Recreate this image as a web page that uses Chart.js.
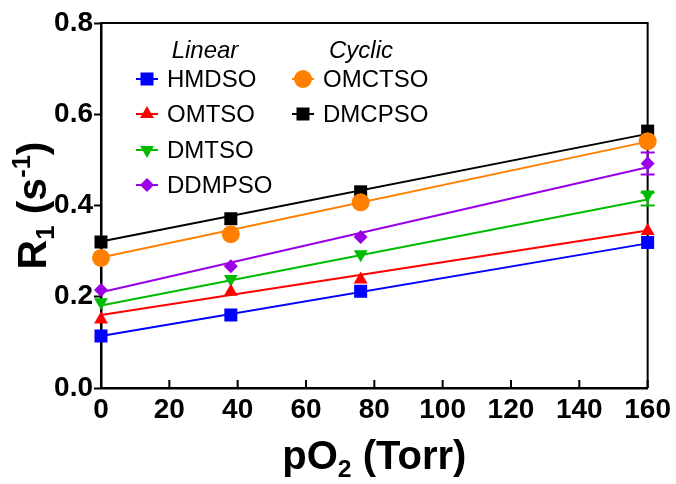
<!DOCTYPE html>
<html><head><meta charset="utf-8">
<script src="https://cdn.jsdelivr.net/npm/chart.js@4"></script>
<style>html,body{margin:0;padding:0;background:#fff}canvas{display:block}</style>
</head><body>
<canvas id="c" width="676" height="484"></canvas>
<script>
// ---------- data ----------
const pO2 = [0, 38, 76, 160];
const seriesNames = ['HMDSO', 'OMTSO', 'DMTSO', 'DDMPSO', 'OMCTSO', 'DMCPSO'];
const HMDSO  = [0.114, 0.160, 0.212, 0.319];
const OMTSO  = [0.150, 0.211, 0.238, 0.344];
const DMTSO  = [0.188, 0.239, 0.293, 0.424];
const DDMPSO = [0.215, 0.267, 0.331, 0.492];
const OMCTSO = [0.285, 0.337, 0.407, 0.541];
const DMCPSO = [0.320, 0.371, 0.430, 0.563];
// linear fit lines, read at pO2 = 0 and 160
const fitX = [0, 160];
const HMDSO_fit  = [0.114, 0.317];
const OMTSO_fit  = [0.160, 0.345];
const DMTSO_fit  = [0.181, 0.413];
const DDMPSO_fit = [0.210, 0.484];
const OMCTSO_fit = [0.286, 0.540];
const DMCPSO_fit = [0.321, 0.557];
// error bars
const DMTSO_errHigh  = [0, 0, 0, 0.004];
const DMTSO_errLow   = [0, 0, 0, 0.024];
const DDMPSO_errHigh = [0, 0, 0, 0.024];
const DDMPSO_errLow  = [0, 0, 0, 0.024];
// ticks and texts
const xTicks = [0, 20, 40, 60, 80, 100, 120, 140, 160];
const yTicks = [0.0, 0.2, 0.4, 0.6, 0.8];
const yTickLabels = ['0.0', '0.2', '0.4', '0.6', '0.8'];
const legendHeadings = ['Linear', 'Cyclic'];
const legendColumns = [['HMDSO', 'OMTSO', 'DMTSO', 'DDMPSO'], ['OMCTSO', 'DMCPSO']];
const xTitleParts = [['pO', ''], ['2', 'sub'], [' (Torr)', '']];
const yTitleParts = [['R', ''], ['1', 'sub'], [' (s', ''], ['-1', 'sup'], [')', '']];

// ---------- styles ----------
const FONT = '"Liberation Sans", Arial, Helvetica, sans-serif';
const styles = {
  HMDSO:  {color: '#0000ff', pointStyle: 'rect',     radius: 9.2, rotation: 0},
  OMTSO:  {color: '#ff0000', pointStyle: 'triangle', radius: 8,   rotation: 0},
  DMTSO:  {color: '#00bb00', pointStyle: 'triangle', radius: 8,   rotation: 180},
  DDMPSO: {color: '#9900e6', pointStyle: 'rectRot',  radius: 7,   rotation: 0},
  OMCTSO: {color: '#ff8000', pointStyle: 'circle',   radius: 9,   rotation: 0},
  DMCPSO: {color: '#000000', pointStyle: 'rect',     radius: 9.2, rotation: 0}
};
const values = {HMDSO, OMTSO, DMTSO, DDMPSO, OMCTSO, DMCPSO};
const fits = {HMDSO: HMDSO_fit, OMTSO: OMTSO_fit, DMTSO: DMTSO_fit, DDMPSO: DDMPSO_fit, OMCTSO: OMCTSO_fit, DMCPSO: DMCPSO_fit};
const errs = {DMTSO: [DMTSO_errHigh, DMTSO_errLow], DDMPSO: [DDMPSO_errHigh, DDMPSO_errLow]};

const datasets = [];
seriesNames.forEach(n => {
  const s = styles[n];
  datasets.push({
    label: n, type: 'line', showLine: false, order: 0, clip: false,
    data: pO2.map((x, i) => ({x, y: values[n][i]})),
    pointStyle: s.pointStyle, pointRadius: s.radius, pointRotation: s.rotation,
    pointBackgroundColor: s.color, pointBorderColor: s.color, pointBorderWidth: 0,
    pointHoverRadius: s.radius, borderColor: s.color, backgroundColor: s.color
  });
});
seriesNames.forEach(n => {
  const s = styles[n];
  datasets.push({
    label: n + ' fit', type: 'line', order: 1, clip: false,
    data: fitX.map((x, i) => ({x, y: fits[n][i]})),
    borderColor: s.color, borderWidth: 2, pointRadius: 0, fill: false, tension: 0
  });
});

function drawRich(ctx, parts, size) {
  const subSize = size * 0.62;
  let w = 0;
  const meas = parts.map(([t, k]) => {
    ctx.font = 'bold ' + (k ? subSize : size) + 'px ' + FONT;
    const m = ctx.measureText(t).width; w += m; return m;
  });
  let x = -w / 2;
  parts.forEach(([t, k], i) => {
    ctx.font = 'bold ' + (k ? subSize : size) + 'px ' + FONT;
    const dy = k === 'sub' ? size * 0.2 : (k === 'sup' ? -size * 0.4 : 0);
    ctx.fillText(t, x, dy);
    x += meas[i];
  });
}

function marker(ctx, s, x, y) {
  ctx.save();
  ctx.fillStyle = s.color; ctx.strokeStyle = s.color;
  if (Chart.helpers && Chart.helpers.drawPoint) {
    Chart.helpers.drawPoint(ctx, {pointStyle: s.pointStyle, radius: s.radius, rotation: s.rotation, borderWidth: 0}, x, y);
  } else {
    ctx.beginPath(); ctx.arc(x, y, s.radius, 0, Math.PI * 2); ctx.fill();
  }
  ctx.restore();
}

const decor = {
  id: 'decor',
  beforeDatasetsDraw(chart) {
    const {ctx, chartArea: a, scales: {x, y}} = chart;
    ctx.save();
    ctx.strokeStyle = '#000'; ctx.lineWidth = 2;
    // top and right frame
    ctx.beginPath();
    ctx.moveTo(a.left, a.top); ctx.lineTo(a.right, a.top); ctx.lineTo(a.right, a.bottom);
    ctx.stroke();
    // inward x ticks
    x.ticks.forEach(t => {
      const px = x.getPixelForValue(t.value);
      ctx.beginPath(); ctx.moveTo(px, a.bottom); ctx.lineTo(px, a.bottom - 8); ctx.stroke();
    });
    // error bars
    Object.keys(errs).forEach(n => {
      const [hi, lo] = errs[n];
      ctx.strokeStyle = styles[n].color; ctx.lineWidth = 2;
      pO2.forEach((xv, i) => {
        if (!hi[i] && !lo[i]) return;
        const px = x.getPixelForValue(xv);
        const yt = y.getPixelForValue(values[n][i] + hi[i]);
        const yb = y.getPixelForValue(values[n][i] - lo[i]);
        ctx.beginPath();
        ctx.moveTo(px, yt); ctx.lineTo(px, yb);
        ctx.moveTo(px - 7, yt); ctx.lineTo(px + 7, yt);
        ctx.moveTo(px - 7, yb); ctx.lineTo(px + 7, yb);
        ctx.stroke();
      });
    });
    ctx.restore();
  },
  afterDraw(chart) {
    const {ctx, chartArea: a} = chart;
    ctx.save();
    ctx.fillStyle = '#000';
    ctx.textAlign = 'left'; ctx.textBaseline = 'alphabetic';
    // x title
    ctx.save(); ctx.translate((a.left + a.right) / 2, 469); drawRich(ctx, xTitleParts, 40); ctx.restore();
    // y title
    ctx.save(); ctx.translate(46, (a.top + a.bottom) / 2); ctx.rotate(-Math.PI / 2); drawRich(ctx, yTitleParts, 41); ctx.restore();
    // legend
    const colMarkerX = [147, 303], colTextX = [167, 323], headX = [205, 361];
    const rowBase = [87, 122, 158, 193];
    ctx.font = 'italic 24px ' + FONT; ctx.textAlign = 'center';
    legendHeadings.forEach((h, c) => ctx.fillText(h, headX[c], 58));
    legendColumns.forEach((col, c) => {
      col.forEach((n, r) => {
        const s = styles[n];
        const cy = rowBase[r] - 8;
        ctx.save(); ctx.strokeStyle = s.color; ctx.lineWidth = 2;
        ctx.beginPath(); ctx.moveTo(colMarkerX[c] - 11, cy); ctx.lineTo(colMarkerX[c] + 11, cy); ctx.stroke();
        ctx.restore();
        marker(ctx, s, colMarkerX[c], cy);
        ctx.fillStyle = '#000'; ctx.font = '24px ' + FONT; ctx.textAlign = 'left';
        ctx.fillText(n, colTextX[c], rowBase[r]);
      });
    });
    ctx.restore();
  }
};

new Chart(document.getElementById('c'), {
  type: 'line',
  data: {datasets},
  plugins: [decor],
  options: {
    responsive: false, animation: false, devicePixelRatio: 1,
    layout: {padding: {top: 23, right: 27, left: 0, bottom: 0}},
    plugins: {legend: {display: false}, tooltip: {enabled: false}},
    scales: {
      x: {
        type: 'linear', min: 0, max: 160,
        afterBuildTicks: s => { s.ticks = xTicks.map(v => ({value: v})); },
        afterFit: s => { s.height = 96; },
        grid: {display: true, drawOnChartArea: false, drawTicks: false},
        border: {display: true, color: '#000', width: 2.5},
        ticks: {color: '#000', padding: 5, maxRotation: 0, autoSkip: false, font: {family: FONT, size: 28, weight: 'bold'}, callback: v => String(v)}
      },
      y: {
        type: 'linear', min: 0, max: 0.8,
        afterBuildTicks: s => { s.ticks = yTicks.map(v => ({value: v})); },
        afterFit: s => { s.width = 101; },
        grid: {display: true, drawOnChartArea: false, drawTicks: true, tickLength: 7, tickWidth: 2, tickColor: '#000'},
        border: {display: true, color: '#000', width: 2.5},
        ticks: {color: '#000', padding: 1, autoSkip: false, font: {family: FONT, size: 28, weight: 'bold'}, callback: (v, i) => yTickLabels[i]}
      }
    }
  }
});
</script>
</body></html>
